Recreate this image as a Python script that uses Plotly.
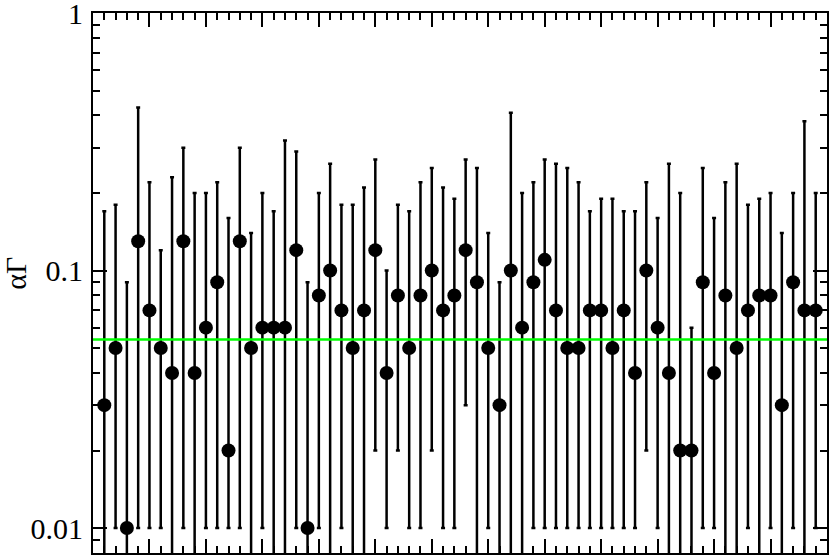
import numpy as np
import plotly.graph_objects as go

# measured values, one per index 1..64
idx = list(range(1, 65))
value = [0.03, 0.05, 0.01, 0.13, 0.07, 0.05, 0.04, 0.13, 0.04, 0.06,
         0.09, 0.02, 0.13, 0.05, 0.06, 0.06, 0.06, 0.12, 0.01, 0.08,
         0.10, 0.07, 0.05, 0.07, 0.12, 0.04, 0.08, 0.05, 0.08, 0.10,
         0.07, 0.08, 0.12, 0.09, 0.05, 0.03, 0.10, 0.06, 0.09, 0.11,
         0.07, 0.05, 0.05, 0.07, 0.07, 0.05, 0.07, 0.04, 0.10, 0.06,
         0.04, 0.02, 0.02, 0.09, 0.04, 0.08, 0.05, 0.07, 0.08, 0.08,
         0.03, 0.09, 0.07, 0.07]
upper = [0.17, 0.18, 0.09, 0.43, 0.22, 0.12, 0.23, 0.30, 0.20, 0.20,
         0.22, 0.16, 0.30, 0.14, 0.20, 0.17, 0.32, 0.29, 0.09, 0.20,
         0.26, 0.18, 0.18, 0.21, 0.27, 0.10, 0.18, 0.17, 0.22, 0.25,
         0.21, 0.19, 0.27, 0.25, 0.14, 0.09, 0.41, 0.20, 0.22, 0.27,
         0.26, 0.25, 0.22, 0.17, 0.19, 0.19, 0.17, 0.17, 0.22, 0.16,
         0.26, 0.20, 0.06, 0.25, 0.16, 0.22, 0.26, 0.18, 0.19, 0.20,
         0.14, 0.20, 0.38, 0.20]
# lower limit 0 -> bar runs off the bottom of the log axis
lower = [0, 0.01, 0, 0.01, 0.01, 0.01, 0, 0.01, 0, 0.01,
         0.01, 0.01, 0.01, 0, 0.01, 0, 0, 0.01, 0, 0.01,
         0, 0.01, 0, 0, 0.02, 0.01, 0.02, 0.01, 0.01, 0.02,
         0.01, 0.01, 0.03, 0, 0.01, 0, 0, 0, 0.01, 0.01,
         0.01, 0.01, 0.01, 0.01, 0.01, 0.01, 0.01, 0.01, 0.02, 0.01,
         0, 0, 0, 0.01, 0.01, 0, 0, 0.01, 0, 0.01,
         0, 0.01, 0, 0.01]
mean_level = 0.054

ytick_vals = [0.01, 0.1, 1]
ytick_text = ["0.01", "0.1", "1"]

v = np.array(value)
err_plus = np.array(upper) - v
err_minus = v - np.array(lower)

font = "Liberation Serif, Times New Roman, serif"

fig = go.Figure()
fig.add_trace(go.Scatter(
    x=idx, y=value, mode="markers",
    marker=dict(color="black", size=14),
    error_y=dict(type="data", symmetric=False, array=err_plus, arrayminus=err_minus,
                 color="black", thickness=2.5, width=2),
    showlegend=False))
fig.add_trace(go.Scatter(
    x=[0, 65], y=[mean_level, mean_level], mode="lines",
    line=dict(color="#00ff00", width=2.5), showlegend=False))

minor_y = [0.009] + [k * 0.01 for k in range(2, 10)] + [k * 0.1 for k in range(2, 10)]

fig.update_layout(
    width=830, height=558,
    margin=dict(l=93, r=3, t=13, b=5),
    plot_bgcolor="white", paper_bgcolor="white",
    font=dict(family=font, size=30, color="black"),
    xaxis=dict(range=[0, 65], showgrid=False, zeroline=False, automargin=False,
               showline=True, linecolor="black", linewidth=2, mirror="allticks",
               ticks="inside", ticklen=14, tickwidth=2, tickcolor="black",
               tickmode="array", tickvals=list(range(0, 66, 5)), showticklabels=False,
               minor=dict(ticks="inside", ticklen=7, tickwidth=2, tickcolor="black",
                          dtick=1, showgrid=False)),
    yaxis=dict(type="log", range=[np.log10(0.008), 0], showgrid=False, zeroline=False,
               automargin=False, ticklabeloverflow="allow",
               showline=True, linecolor="black", linewidth=2, mirror="allticks",
               ticks="inside", ticklen=14, tickwidth=2, tickcolor="black",
               tickmode="array", tickvals=ytick_vals, ticktext=ytick_text,
               tickfont=dict(size=30), ticklabelstandoff=2,
               minor=dict(ticks="inside", ticklen=7, tickwidth=2, tickcolor="black",
                          tickmode="array", tickvals=minor_y, showgrid=False)),
    annotations=[dict(text="αΓ", xref="paper", yref="paper", x=-0.105, y=0.519,
                      textangle=-90, showarrow=False, font=dict(size=30),
                      xanchor="center", yanchor="middle")],
)

# drop the default body margin so the figure sits at the window corner
fig.write_html("out.html", config={"displayModeBar": False},
               post_script="document.body.style.margin = '0';")
